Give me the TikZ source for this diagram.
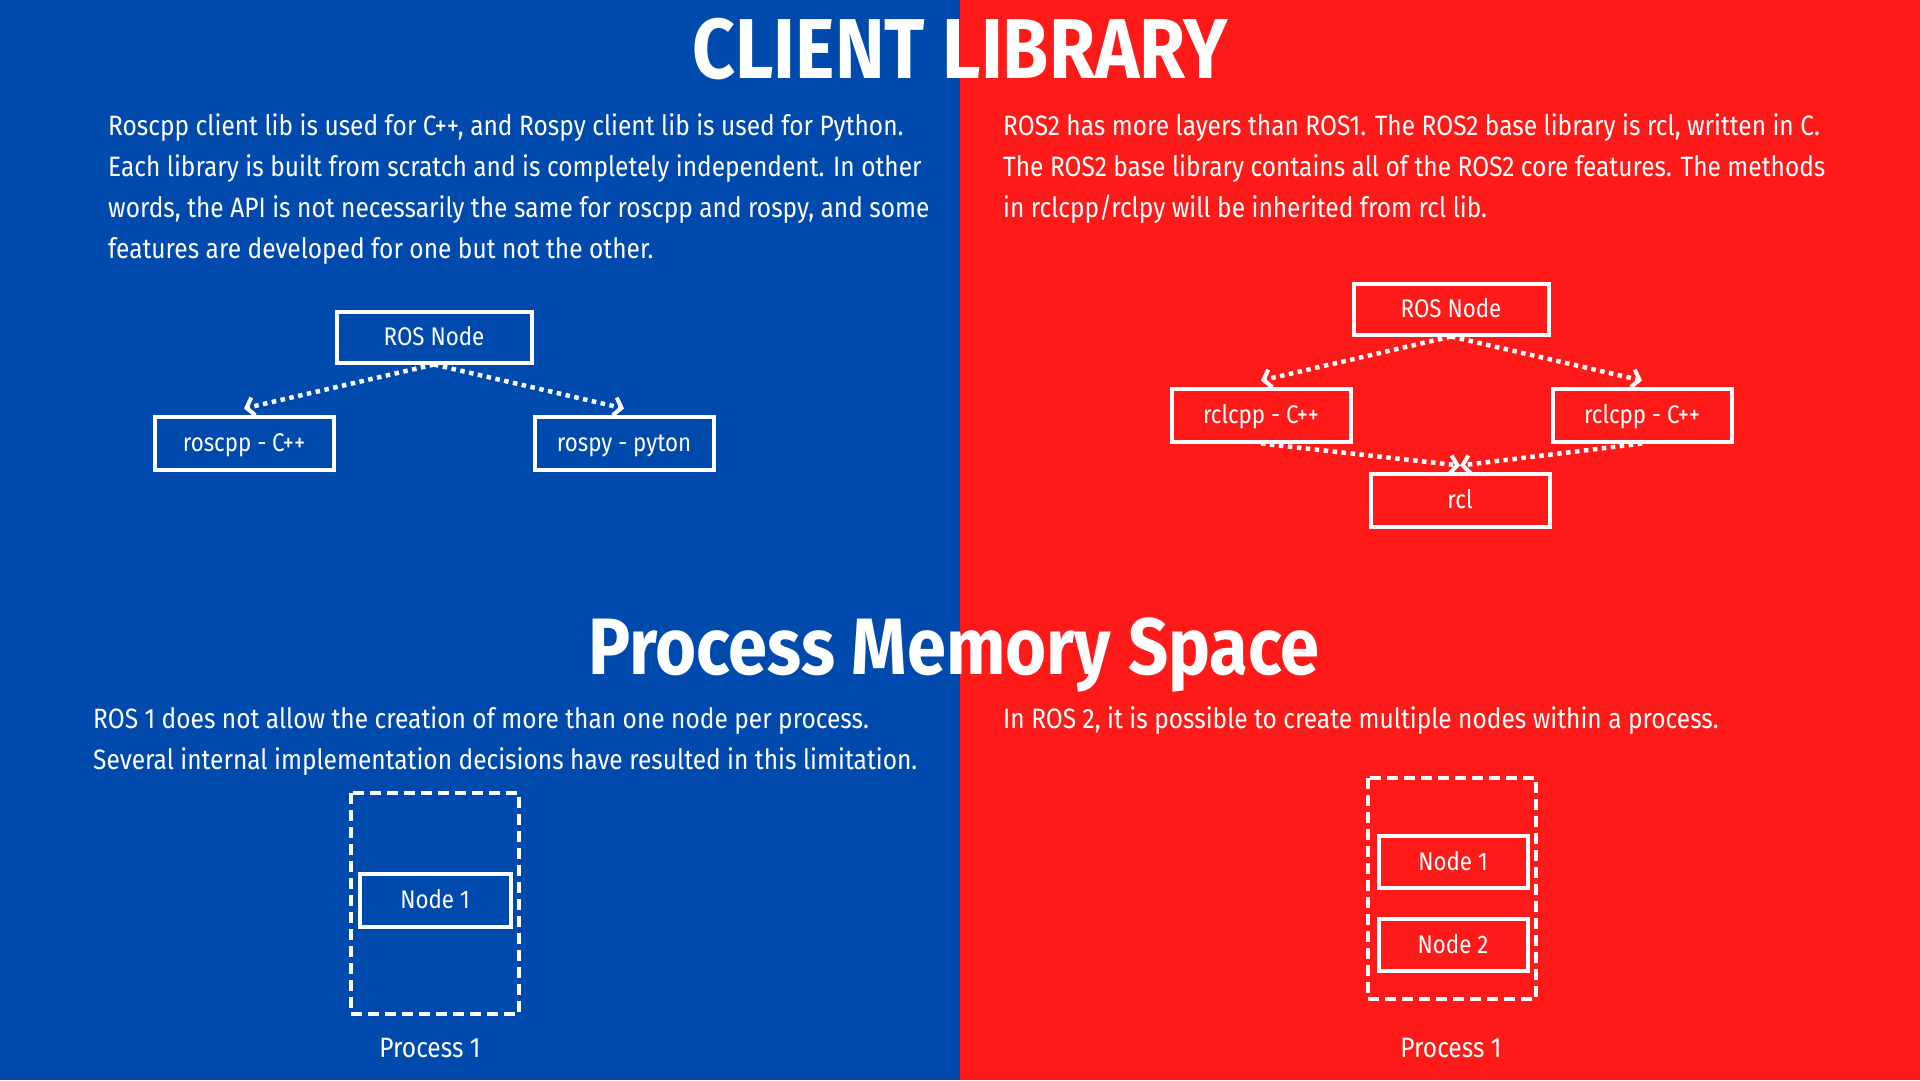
\documentclass[tikz,border=0pt]{standalone}
\usepackage{fontspec}
\setmainfont{Fira Sans}[FakeStretch=0.875]
\newfontfamily\headfont{Fira Sans}[FakeStretch=0.88]
\usetikzlibrary{arrows.meta}
\definecolor{rosblue}{RGB}{0,74,173}
\definecolor{rosred}{RGB}{255,26,26}
\tikzset{
  para/.style={anchor=base west, inner sep=0pt, text=white, font=\fontsize{28}{34}\selectfont},
  heading/.style={text=white, inner sep=0pt, font=\headfont\bfseries\fontsize{80}{90}\selectfont},
  box/.style={draw=white, line width=4pt, text=white, inner sep=0pt,
    text height=17.5pt, text depth=0pt,
    minimum width=179pt, minimum height=53pt, font=\fontsize{25.5}{30}\selectfont},
  widebox/.style={box, minimum width=195pt, minimum height=51pt},
  procbox/.style={draw=white, line width=3.5pt, dash pattern=on 11pt off 6pt},
  caption/.style={text=white, inner sep=0pt, font=\fontsize{28}{32}\selectfont},
  flow/.style={draw=white, line width=4.5pt, dash pattern=on 4.5pt off 4.5pt,
    -{Straight Barb[length=7pt,width=18pt,line width=4pt]}},
}
\begin{document}
\begin{tikzpicture}[x=1pt,y=-1pt]
  \path[use as bounding box] (0,0) rectangle (1920,1080);
  % two coloured halves
  \fill[rosblue] (0,0) rectangle (960,1080);
  \fill[rosred] (960,0) rectangle (1920,1080);

  % headings
  \node[heading, font=\headfont\bfseries\fontsize{85}{90}\selectfont] (title) at (960,49) {CLIENT LIBRARY};
  \node[heading] (pms) at (954,655) {Process Memory Space};

  % ROS 1 client library text
  \node[para] (a1) at (108,135) {Roscpp client lib is used for C++, and Rospy client lib is used for Python.};
  \node[para] (a2) at (108,176) {Each library is built from scratch and is completely independent. In other};
  \node[para] (a3) at (108,217) {words, the API is not necessarily the same for roscpp and rospy, and some};
  \node[para] (a4) at (108,258) {features are developed for one but not the other.};

  % ROS 2 client library text
  \node[para] (b1) at (1003,135) {ROS2 has more layers than ROS1. The ROS2 base library is rcl, written in C.};
  \node[para] (b2) at (1003,176) {The ROS2 base library contains all of the ROS2 core features. The methods};
  \node[para] (b3) at (1003,217) {in rclcpp/rclpy will be inherited from rcl lib.};

  % ROS 1 library tree
  \node[widebox] (ros1) at (434,337) {ROS Node};
  \node[box] (cpp1) at (244,443) {roscpp - C++};
  \node[box] (py1) at (624,443) {rospy - pyton};
  \draw[flow] (ros1.south) -- ([yshift=6pt]cpp1.north);
  \draw[flow] (ros1.south) -- ([yshift=6pt]py1.north);

  % ROS 2 library tree
  \node[widebox] (ros2) at (1451,309) {ROS Node};
  \node[box] (cppl) at (1261,415) {rclcpp - C++};
  \node[box] (cppr) at (1642,415) {rclcpp - C++};
  \node[box] (rcl) at (1460,500) {rcl};
  \draw[flow] (ros2.south) -- ([yshift=6pt]cppl.north);
  \draw[flow] (ros2.south) -- ([yshift=6pt]cppr.north);
  \draw[flow] (cppl.south) -- ([yshift=6pt]rcl.north);
  \draw[flow] (cppr.south) -- ([yshift=6pt]rcl.north);

  % ROS 1 process text and diagram
  \node[para] (c1) at (93,728) {ROS 1 does not allow the creation of more than one node per process.};
  \node[para] (c2) at (93,769) {Several internal implementation decisions have resulted in this limitation.};
  \draw[procbox] (351,793) rectangle (519,1014);
  \node[box, minimum width=151pt] (n11) at (435,900) {Node 1};
  \node[caption] (p1) at (430,1048) {Process 1};

  % ROS 2 process text and diagram
  \node[para] (d1) at (1003,728) {In ROS 2, it is possible to create multiple nodes within a process.};
  \draw[procbox] (1368,778) rectangle (1536,999);
  \node[box, minimum width=149pt, minimum height=52pt] (n21) at (1453,862) {Node 1};
  \node[box, minimum width=149pt, minimum height=52pt] (n22) at (1453,945) {Node 2};
  \node[caption] (p2) at (1451,1048) {Process 1};
\end{tikzpicture}
\end{document}
